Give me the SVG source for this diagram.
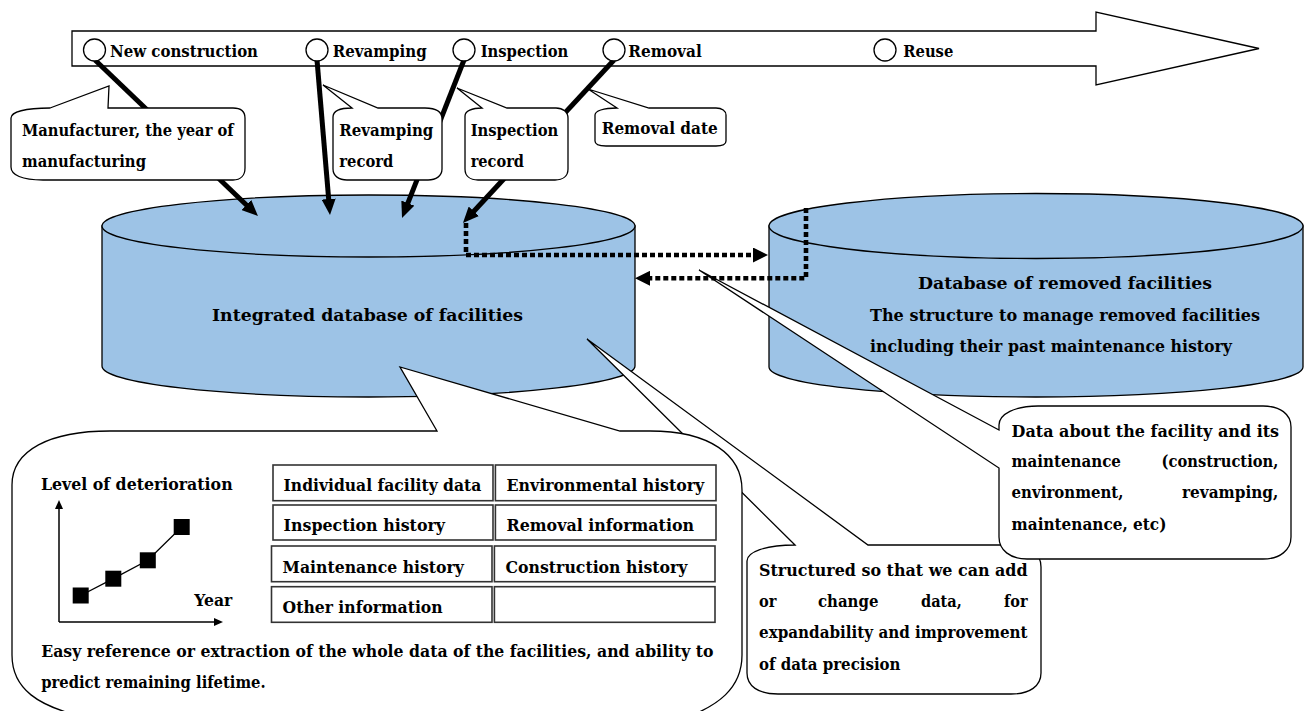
<svg xmlns="http://www.w3.org/2000/svg" width="1311" height="711" viewBox="0 0 1311 711">
<style>
text{font-family:"DejaVu Serif","Liberation Serif",serif;font-weight:bold;font-size:17px;fill:#000}
.cyl{fill:#9DC3E6;stroke:#000;stroke-width:1.3}
.call{fill:#fff;stroke:#000;stroke-width:1.3;stroke-linejoin:miter}
.cell{fill:#fff;stroke:#333;stroke-width:1.6}
.thick{fill:none;stroke:#000;stroke-width:5;marker-end:url(#aThick)}
.dot{fill:none;stroke:#000;stroke-width:4.6;stroke-dasharray:5 3;marker-end:url(#aDot)}
.stage{fill:#fff;stroke:#000;stroke-width:1.3}
.axis{fill:none;stroke:#000;stroke-width:1.5;marker-end:url(#aAxis)}
</style>
<defs>
<marker id="aThick" markerUnits="userSpaceOnUse" viewBox="0 0 16 14" markerWidth="16" markerHeight="14" refX="4" refY="7" orient="auto"><path d="M0,0 L16,7 L0,14 Z" fill="#000"/></marker>
<marker id="aDot" markerUnits="userSpaceOnUse" viewBox="0 0 15 15" markerWidth="15" markerHeight="15" refX="0" refY="7.5" orient="auto"><path d="M0,0 L15,7.5 L0,15 Z" fill="#000"/></marker>
<marker id="aAxis" markerUnits="userSpaceOnUse" viewBox="0 0 9 8" markerWidth="9" markerHeight="8" refX="0" refY="4" orient="auto"><path d="M0,0 L9,4 L0,8 Z" fill="#000"/></marker>
</defs>
<rect width="1311" height="711" fill="#fff"/>

<g id="db-integrated">
<path class="cyl" d="M102,226 L102,366 A266.5,31 0 0 0 635,366 L635,226 Z"/>
<ellipse class="cyl" cx="368.5" cy="226" rx="266.5" ry="31"/>
<text x="212" y="321" textLength="311" lengthAdjust="spacingAndGlyphs">Integrated database of facilities</text>
</g>

<g id="db-removed">
<path class="cyl" d="M769,226 L769,367 A267,30 0 0 0 1303,367 L1303,226 Z"/>
<ellipse class="cyl" cx="1036" cy="226" rx="267" ry="32.5"/>
<text x="918" y="289" textLength="294" lengthAdjust="spacingAndGlyphs">Database of removed facilities</text>
<text x="870" y="321" textLength="390" lengthAdjust="spacingAndGlyphs">The structure to manage removed facilities</text>
<text x="870" y="352" textLength="362" lengthAdjust="spacingAndGlyphs">including their past maintenance history</text>
</g>

<g id="note-structured">
<path class="call" d="M795,545 L587,339 L868,545 L1011,545 C1030,545 1041,553 1041,567 L1041,673 C1041,686 1030,694 1011,694 L778,694 C758,694 747,686 747,673 L747,561 C747,552 765,545 795,545 Z"/>
<text x="759" y="576" textLength="268.6" lengthAdjust="spacingAndGlyphs">Structured so that we can add</text>
<text x="759" y="607" textLength="17.4" lengthAdjust="spacingAndGlyphs">or</text>
<text x="818" y="607" textLength="60.4" lengthAdjust="spacingAndGlyphs">change</text>
<text x="921" y="607" textLength="40.8" lengthAdjust="spacingAndGlyphs">data,</text>
<text x="1004" y="607" textLength="23.5" lengthAdjust="spacingAndGlyphs">for</text>
<text x="759" y="638" textLength="268.6" lengthAdjust="spacingAndGlyphs">expandability and improvement</text>
<text x="759" y="670" textLength="141.5" lengthAdjust="spacingAndGlyphs">of data precision</text>
</g>

<g id="note-integrated">
<path class="call" d="M110,431 L437,431 L400,367 L620,431 L650,431 C710,431 742,455 742,490 L742,655 C742,690 715,706 690,716 L80,716 C40,706 12,690 12,655 L12,485 C12,450 50,431 110,431 Z"/>
<text x="41" y="490" textLength="191.6" lengthAdjust="spacingAndGlyphs">Level of deterioration</text>
<text x="194.3" y="605.7" textLength="38" lengthAdjust="spacingAndGlyphs">Year</text>
<path class="axis" d="M59,622 L59,509"/>
<path class="axis" d="M59,622 L214,622"/>
<polyline points="80.7,595.5 113.3,578.7 147.8,560.3 181.7,527" fill="none" stroke="#000" stroke-width="1.3"/>
<rect x="72.7" y="587.5" width="16" height="16" fill="#000"/>
<rect x="105.3" y="570.7" width="16" height="16" fill="#000"/>
<rect x="139.8" y="552.3" width="16" height="16" fill="#000"/>
<rect x="173.7" y="519" width="16" height="16" fill="#000"/>
<rect class="cell" x="273" y="465" width="220" height="35.7"/>
<rect class="cell" x="495.4" y="465" width="220.6" height="35.7"/>
<rect class="cell" x="273" y="505" width="220" height="35"/>
<rect class="cell" x="495.4" y="505" width="220.6" height="35"/>
<rect class="cell" x="271.5" y="546" width="220.5" height="35.7"/>
<rect class="cell" x="494.4" y="546" width="220.6" height="35.7"/>
<rect class="cell" x="271.5" y="586.7" width="220.5" height="35.6"/>
<rect class="cell" x="494.4" y="586.7" width="220.6" height="35.6"/>
<text x="283.6" y="490.7" textLength="197.7" lengthAdjust="spacingAndGlyphs">Individual facility data</text>
<text x="506.5" y="490.7" textLength="197.8" lengthAdjust="spacingAndGlyphs">Environmental history</text>
<text x="283.6" y="531" textLength="161.4" lengthAdjust="spacingAndGlyphs">Inspection history</text>
<text x="506.5" y="531" textLength="187.6" lengthAdjust="spacingAndGlyphs">Removal information</text>
<text x="282.6" y="572.7" textLength="181.3" lengthAdjust="spacingAndGlyphs">Maintenance history</text>
<text x="505.6" y="572.7" textLength="181.8" lengthAdjust="spacingAndGlyphs">Construction history</text>
<text x="282.6" y="612.7" textLength="160" lengthAdjust="spacingAndGlyphs">Other information</text>
<text x="41.2" y="656.7" textLength="672.3" lengthAdjust="spacingAndGlyphs">Easy reference or extraction of the whole data of the facilities, and ability to</text>
<text x="41.2" y="687.7" textLength="224.4" lengthAdjust="spacingAndGlyphs">predict remaining lifetime.</text>
</g>

<g id="note-removed">
<path class="call" d="M999,430 L699,270 L999,468 L999,537 C999,550 1010,559 1027,559 L1263,559 C1280,559 1291,550 1291,537 L1291,427 C1291,414 1280,406 1263,406 L1038,406 C1015,406 999,414 999,425 Z"/>
<text x="1011.6" y="436.7" textLength="267.5" lengthAdjust="spacingAndGlyphs">Data about the facility and its</text>
<text x="1011.6" y="467.3" textLength="109.3" lengthAdjust="spacingAndGlyphs">maintenance</text>
<text x="1161.6" y="467.3" textLength="116.7" lengthAdjust="spacingAndGlyphs">(construction,</text>
<text x="1011.6" y="498.3" textLength="111.9" lengthAdjust="spacingAndGlyphs">environment,</text>
<text x="1182" y="498.3" textLength="96.3" lengthAdjust="spacingAndGlyphs">revamping,</text>
<text x="1011.6" y="530" textLength="154.8" lengthAdjust="spacingAndGlyphs">maintenance, etc)</text>
</g>

<g id="timeline">
<path class="stage" d="M72,31 L1096,31 L1096,12 L1259,48.5 L1096,85 L1096,66 L72,66 Z"/>
</g>

<g id="connectors">
<line class="thick" x1="95" y1="60" x2="249.3" y2="207.7"/>
<line class="thick" x1="317" y1="60" x2="329" y2="203"/>
<line class="thick" x1="464" y1="60" x2="406.4" y2="206.8"/>
<line class="thick" x1="614" y1="60" x2="471.1" y2="214.2"/>
<path class="dot" d="M466,223 L466,255 L753,255"/>
<path class="dot" d="M806,208 L806,278.3 L650,278.3"/>
</g>

<g id="stage-new">
<circle class="stage" cx="94.5" cy="50" r="11"/>
<text x="110" y="57" textLength="148" lengthAdjust="spacingAndGlyphs">New construction</text>
</g>
<g id="stage-revamping">
<circle class="stage" cx="317" cy="50" r="11"/>
<text x="332.7" y="57" textLength="94" lengthAdjust="spacingAndGlyphs">Revamping</text>
</g>
<g id="stage-inspection">
<circle class="stage" cx="464" cy="50" r="11"/>
<text x="480.7" y="57" textLength="87.6" lengthAdjust="spacingAndGlyphs">Inspection</text>
</g>
<g id="stage-removal">
<circle class="stage" cx="614" cy="50" r="11"/>
<text x="628.3" y="57" textLength="73.4" lengthAdjust="spacingAndGlyphs">Removal</text>
</g>
<g id="stage-reuse">
<circle class="stage" cx="885" cy="50" r="11"/>
<text x="903.3" y="57" textLength="50" lengthAdjust="spacingAndGlyphs">Reuse</text>
</g>

<g id="note-manufacturer">
<path class="call" d="M50,108 L109,86 L108,108 L233,108 C241,108 245,112 245,118 L245,168 C245,175 241,180 233,180 L43,180 C22,180 11,175 11,167 L11,118 C11,112 25,108 50,108 Z"/>
<text x="22" y="136" textLength="211.6" lengthAdjust="spacingAndGlyphs">Manufacturer, the year of</text>
<text x="22" y="167" textLength="124" lengthAdjust="spacingAndGlyphs">manufacturing</text>
</g>
<g id="note-revamping">
<path class="call" d="M352,108 L323,85 L378,108 L425,108 C436,108 442,112 442,119 L442,169 C442,176 436,180 428,180 L347,180 C339,180 333,176 333,169 L333,117 C333,111 340,108 352,108 Z"/>
<text x="339.3" y="136" textLength="94" lengthAdjust="spacingAndGlyphs">Revamping</text>
<text x="339.3" y="167" textLength="54" lengthAdjust="spacingAndGlyphs">record</text>
</g>
<g id="note-inspection">
<path class="call" d="M482,108 L457,88 L507,108 L556,108 C563,108 568,112 568,118 L568,169 C568,176 563,180 555,180 L478,180 C470,180 465,176 465,169 L465,116 C465,111 472,108 482,108 Z"/>
<text x="470.7" y="136" textLength="87.6" lengthAdjust="spacingAndGlyphs">Inspection</text>
<text x="470.7" y="167" textLength="53.3" lengthAdjust="spacingAndGlyphs">record</text>
</g>
<g id="note-removal">
<path class="call" d="M617,108 L588,89 L649,108 L716,108 C722,108 726,111 726,115 L726,141 C726,144 722,146 716,146 L606,146 C599,146 595,144 595,141 L595,115 C595,111 603,108 617,108 Z"/>
<text x="601.7" y="134.3" textLength="116" lengthAdjust="spacingAndGlyphs">Removal date</text>
</g>
</svg>
